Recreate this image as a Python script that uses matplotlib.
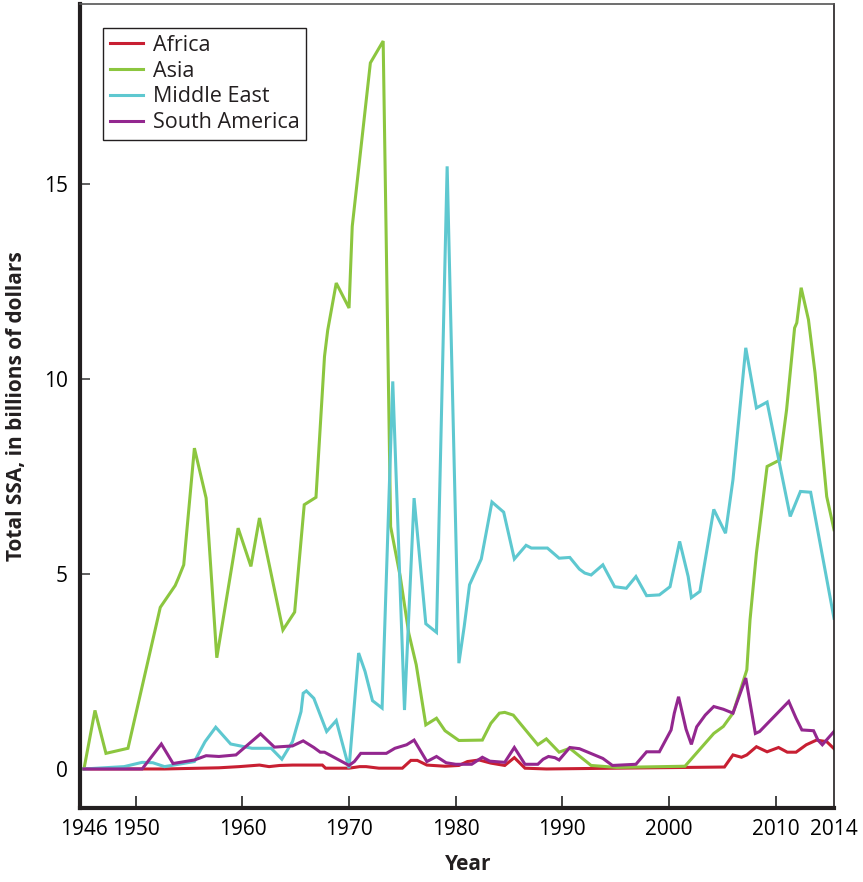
"""Total US security assistance (SSA) by region, 1946-2014 -> out.png."""

import matplotlib
matplotlib.use("Agg")
import matplotlib.pyplot as plt
import numpy as np

plt.rcParams["font.family"] = ["Open Sans", "DejaVu Sans"]

# values (billions of dollars)
africa_years = [1946.0, 1952.7, 1957.8, 1959.7, 1961.6, 1962.5, 1963.5, 1964.7, 1967.5, 1967.8,
                1970.0, 1971.0, 1971.6, 1972.8, 1975.0, 1975.8, 1976.4, 1977.3, 1979.0, 1980.3,
                1981.1, 1982.2, 1983.3, 1984.6, 1985.5, 1986.5, 1988.5, 1995.0, 2005.2, 2006.0,
                2006.8, 2007.3, 2008.2, 2009.2, 2010.2, 2010.8, 2011.4, 2012.1, 2012.8, 2013.5,
                2014.0]
africa = [0.0, 0.0, 0.03, 0.06, 0.10, 0.06, 0.09, 0.10, 0.10, 0.02,
          0.02, 0.06, 0.06, 0.02, 0.02, 0.22, 0.22, 0.10, 0.07, 0.09,
          0.19, 0.23, 0.15, 0.09, 0.29, 0.02, 0.0, 0.02, 0.05, 0.36,
          0.30, 0.36, 0.57, 0.44, 0.55, 0.43, 0.43, 0.62, 0.74, 0.70,
          0.52]

asia_years = [1946.0, 1946.85, 1947.7, 1949.4, 1952.3, 1953.7, 1954.0, 1954.5, 1955.5, 1956.6,
              1957.6, 1959.6, 1960.8, 1961.6, 1963.8, 1964.9, 1965.8, 1966.9, 1967.7, 1968.0,
              1968.8, 1970.0, 1970.3, 1972.0, 1973.2, 1973.9, 1974.8, 1975.6, 1976.3, 1977.2,
              1978.2, 1979.0, 1980.3, 1982.5, 1983.3, 1984.1, 1984.6, 1985.4, 1987.7, 1988.5,
              1989.7, 1990.7, 1992.7, 1995.1, 2001.5, 2004.2, 2005.1, 2006.0, 2006.8, 2007.3,
              2007.6, 2008.2, 2009.2, 2010.3, 2010.75, 2011.3, 2011.45, 2011.75, 2012.25, 2012.7,
              2013.5, 2014.0]
asia = [0.0, 1.50, 0.40, 0.53, 4.14, 4.70, 4.89, 5.23, 8.22, 6.94,
        2.85, 6.17, 5.19, 6.43, 3.56, 4.02, 6.77, 6.96, 10.57, 11.24,
        12.45, 11.81, 13.90, 18.09, 18.65, 6.21, 4.93, 3.48, 2.67, 1.13,
        1.30, 0.98, 0.73, 0.74, 1.17, 1.43, 1.45, 1.38, 0.62, 0.77,
        0.43, 0.53, 0.09, 0.04, 0.07, 0.91, 1.09, 1.43, 2.11, 2.54,
        3.82, 5.53, 7.75, 7.92, 9.20, 11.30, 11.43, 12.33, 11.51, 10.15,
        6.98, 6.13]

mideast_years = [1946.0, 1949.1, 1950.6, 1951.6, 1952.7, 1955.5, 1956.5, 1957.5, 1958.9, 1960.9,
                 1962.7, 1963.7, 1964.7, 1965.5, 1965.7, 1966.0, 1966.7, 1967.9, 1968.8, 1970.0,
                 1970.9, 1971.5, 1972.2, 1973.1, 1974.1, 1975.2, 1976.1, 1977.2, 1978.2, 1979.2,
                 1980.3, 1980.8, 1981.3, 1982.4, 1983.4, 1984.5, 1985.5, 1986.6, 1987.1, 1988.6,
                 1989.7, 1990.7, 1991.6, 1992.1, 1992.7, 1993.8, 1994.9, 1996.0, 1996.9, 1997.9,
                 1999.1, 2000.1, 2001.0, 2001.8, 2002.1, 2002.9, 2004.2, 2005.3, 2006.0, 2007.2,
                 2008.2, 2009.2, 2011.0, 2011.7, 2012.4, 2014.0]
mideast = [0.0, 0.06, 0.17, 0.16, 0.06, 0.19, 0.70, 1.07, 0.64, 0.53,
           0.53, 0.25, 0.70, 1.47, 1.94, 2.00, 1.81, 0.96, 1.24, 0.02,
           2.97, 2.50, 1.75, 1.56, 9.93, 1.51, 6.94, 3.72, 3.50, 15.44,
           2.71, 3.65, 4.72, 5.38, 6.84, 6.58, 5.38, 5.73, 5.66, 5.66,
           5.40, 5.42, 5.12, 5.02, 4.97, 5.23, 4.67, 4.63, 4.93, 4.44,
           4.46, 4.67, 5.83, 4.93, 4.39, 4.55, 6.65, 6.04, 7.41, 10.79,
           9.25, 9.40, 6.47, 7.11, 7.09, 3.86]

samerica_years = [1946.0, 1950.6, 1952.4, 1953.5, 1955.5, 1956.6, 1957.8, 1959.4, 1961.7, 1963.0,
                  1964.7, 1965.7, 1966.7, 1967.3, 1967.7, 1969.6, 1970.0, 1970.5, 1971.1, 1973.5,
                  1974.3, 1975.4, 1976.1, 1977.3, 1978.2, 1979.1, 1980.0, 1981.5, 1982.5, 1983.2,
                  1984.6, 1985.5, 1986.5, 1987.7, 1988.2, 1988.7, 1989.3, 1989.7, 1990.7, 1991.6,
                  1993.8, 1994.7, 1996.9, 1997.9, 1999.1, 2000.2, 2000.5, 2000.9, 2001.6, 2002.1,
                  2002.6, 2003.4, 2004.2, 2005.1, 2006.0, 2007.2, 2008.1, 2008.5, 2010.9, 2011.4,
                  2011.8, 2012.6, 2012.9, 2013.2, 2014.0]
samerica = [0.0, 0.0, 0.64, 0.14, 0.23, 0.34, 0.32, 0.36, 0.90, 0.56,
            0.59, 0.72, 0.55, 0.43, 0.43, 0.15, 0.09, 0.19, 0.40, 0.40,
            0.53, 0.62, 0.74, 0.19, 0.32, 0.16, 0.12, 0.12, 0.30, 0.20,
            0.17, 0.55, 0.12, 0.12, 0.25, 0.32, 0.29, 0.23, 0.55, 0.52,
            0.27, 0.09, 0.12, 0.44, 0.44, 1.00, 1.43, 1.85, 1.02, 0.63,
            1.08, 1.38, 1.60, 1.53, 1.43, 2.33, 0.91, 0.96, 1.73, 1.30,
            1.00, 0.98, 0.74, 0.62, 0.96]

x_ticks = [1946, 1950, 1960, 1970, 1980, 1990, 2000, 2010, 2014]
y_ticks = [0, 5, 10, 15]

# the original axis is stretched a little at both ends (1946-50 and 2010-14)
YEAR_KNOTS = [1946.0, 1950.0, 2010.0, 2014.0]
POS_KNOTS = [0.0, 51.7, 690.7, 749.0]


def _piecewise(x, xs, ys):
    x = np.asarray(x, dtype=float)
    s0 = (ys[1] - ys[0]) / (xs[1] - xs[0])
    s1 = (ys[-1] - ys[-2]) / (xs[-1] - xs[-2])
    y = np.interp(x, xs, ys)
    y = np.where(x < xs[0], ys[0] + (x - xs[0]) * s0, y)
    y = np.where(x > xs[-1], ys[-1] + (x - xs[-1]) * s1, y)
    return y


def fwd(x):
    return _piecewise(x, YEAR_KNOTS, POS_KNOTS)


def inv(u):
    return _piecewise(u, POS_KNOTS, YEAR_KNOTS)


fig = plt.figure(figsize=(8.63, 8.82), dpi=100)
ax = fig.add_axes([0.0928, 0.0839, 0.8736, 0.9116])
ax.set_xscale("function", functions=(fwd, inv))

series = [
    ("Africa", africa_years, africa, "#c81f32"),
    ("Asia", asia_years, asia, "#8cc63f"),
    ("Middle East", mideast_years, mideast, "#5ec8d0"),
    ("South America", samerica_years, samerica, "#93278f"),
]
for name, xs, ys, col in series:
    ax.plot(xs, ys, color=col, lw=2.2, label=name, solid_joinstyle="miter")

ax.set_xlim(1945.7, 2014.0)
ax.set_ylim(-1.0, 19.6)
ax.set_xticks(x_ticks)
ax.set_xticklabels([str(t) for t in x_ticks])
ax.set_yticks(y_ticks)
ax.tick_params(axis="x", direction="in", length=9, width=1.2, labelsize=15, pad=8,
               color="#222222")
ax.tick_params(axis="y", direction="in", length=7, width=1.2, labelsize=15, pad=9,
               color="#444444")
ax.minorticks_off()
xt = ax.xaxis.get_major_ticks()
for t in (xt[0], xt[-1]):
    t.tick1line.set_visible(False)

ax.spines["left"].set_linewidth(3.0)
ax.spines["bottom"].set_linewidth(3.0)
ax.spines["left"].set_color("#231f20")
ax.spines["bottom"].set_color("#231f20")
ax.spines["top"].set_linewidth(1.2)
ax.spines["top"].set_color("#555555")
ax.spines["right"].set_linewidth(1.2)
ax.spines["right"].set_color("#231f20")

ax.set_xlabel("Year", fontsize=15, fontweight="bold", color="#231f20")
ax.xaxis.set_label_coords(0.515, -0.057)
ax.set_ylabel("Total SSA, in billions of dollars", fontsize=15, fontweight="bold",
              color="#231f20")
ax.yaxis.set_label_coords(-0.070, 0.5)

leg = ax.legend(loc="upper left", bbox_to_anchor=(0.030, 0.970), fontsize=15.5,
                frameon=True, fancybox=False, edgecolor="#231f20", framealpha=1,
                handlelength=1.55, handletextpad=0.45, labelspacing=0.22,
                borderpad=0.32, borderaxespad=0.0)
leg.get_frame().set_linewidth(1.0)
for txt in leg.get_texts():
    txt.set_color("#231f20")

fig.savefig("out.png", dpi=100)
